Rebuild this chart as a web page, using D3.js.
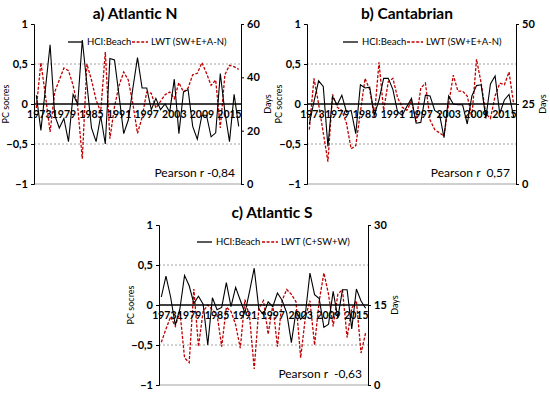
<!DOCTYPE html>
<html>
<head>
<meta charset="utf-8">
<script src="https://cdn.jsdelivr.net/npm/d3@7"></script>
<style>
  body { margin: 0; background: #fff; }
  text { font-family: Lato, "Liberation Sans", sans-serif; }
</style>
</head>
<body>
<svg id="chart"></svg>
<script>
const width = 550, height = 393;

// years 1973-2017
const years = d3.range(1973, 2018);
const yearLabels = [1973, 1979, 1985, 1991, 1997, 2003, 2009, 2015];
const pcTicks = [1, 0.5, 0, -0.5, -1];

// a) Atlantic N
const hciAtlN = [0.11,-0.33,0.2,0.74,-0.14,-0.3,-0.18,-0.47,0.12,0.0,
  0.8,0.25,-0.3,-0.47,-0.15,-0.5,0.57,0.55,0.1,-0.37,
  -0.2,0.2,0.58,0.2,0.2,-0.07,0.07,-0.07,0.0,-0.1,
  0.31,-0.37,0.15,0.18,-0.28,-0.44,-0.14,-0.14,-0.41,-0.36,
  0.38,-0.1,-0.47,0.12,-0.28];
const lwtAtlN = [28.5,45.5,33,19.5,34.5,39,43.5,42.5,37,29,
  9.5,45,39,31.5,27,49.5,17,29,37,42,
  39,30,19,25,34.5,34,28.5,31,33.5,34.5,
  32,38,34.5,36,41,41.5,45.5,41.5,37,39,
  21,41,44.5,44,43];

// b) Cantabrian
const hciCant = [-0.25,0.03,0.29,0.22,-0.53,0.09,-0.01,0.11,-0.1,-0.08,
  -0.37,0.24,0.2,0.21,-0.14,0.05,0.32,0.32,0.18,-0.1,
  -0.14,-0.03,0.07,-0.24,-0.23,0.11,0.1,-0.08,-0.12,-0.42,
  0.1,0.0,-0.01,-0.01,-0.25,0.1,0.23,0.24,-0.18,0.25,
  0.35,-0.12,0.05,0.12,-0.16];
const lwtCant = [17,33,25,16,7,28,24,23,19,11,
  12,22.5,33,29.5,21,38,23,32,33,27,
  24,23,26,19.5,30,31.5,20,17,16,15,
  25,34,29,29,27.5,21,39,31.5,22,20.5,
  27.5,31.5,31,35,25];

// c) Atlantic S
const hciAtlS = [0.1,0.36,0.1,-0.25,-0.05,0.37,0.24,0.02,0.11,0.01,
  -0.5,0.09,-0.06,-0.03,0.28,-0.02,0.22,0.06,-0.1,0.17,
  0.46,-0.05,-0.12,0.04,-0.02,0.15,0.06,-0.1,-0.47,-0.08,
  -0.18,-0.12,0.4,0.13,0.08,-0.28,-0.24,0.17,-0.16,0.19,
  0.19,-0.3,0.2,0.05,-0.04];
const lwtAtlS = [8,10.5,12.8,11,13.8,5.1,4.2,18,7.2,13.8,
  15,14.1,13.2,7.2,14.6,13.8,11.3,6.9,16,12.8,
  3,14.4,15.8,9.5,15,7.2,15.8,17.9,17,15.6,
  5.1,12.6,15.8,7.5,15.8,21,17,11,17,17.9,
  8.9,14.4,15.8,6,9.8];

const panels = [
  { title: "a) Atlantic N", x0: 34, x1: 241, y0: 24, y1: 184, hci: hciAtlN, lwt: lwtAtlN,
    dmax: 60, dticks: [0, 20, 40, 60], lwtName: "LWT (SW+E+A-N)", pearson: "Pearson r -0,84",
    titleX: 135, titleY: 19, legX: 68, legY: 42, redX: 132 },
  { title: "b) Cantabrian", x0: 307, x1: 516, y0: 24, y1: 184, hci: hciCant, lwt: lwtCant,
    dmax: 50, dticks: [0, 25, 50], lwtName: "LWT (SW+E+A-N)", pearson: "Pearson r  0,57",
    titleX: 407, titleY: 19, legX: 343, legY: 42, redX: 407 },
  { title: "c) Atlantic S", x0: 159, x1: 368, y0: 225, y1: 385, hci: hciAtlS, lwt: lwtAtlS,
    dmax: 30, dticks: [0, 15, 30], lwtName: "LWT (C+SW+W)", pearson: "Pearson r  -0,63",
    titleX: 272, titleY: 218, legX: 197, legY: 242, redX: 262 }
];

const red = "#c00000";

const svg = d3.select("#chart")
  .attr("width", width)
  .attr("height", height);

svg.append("rect").attr("width", width).attr("height", height).attr("fill", "#fff");

function drawPanel(p) {
  const g = svg.append("g");
  const x = d3.scalePoint().domain(years).range([p.x0, p.x1]).padding(0.5);
  const y = d3.scaleLinear().domain([-1, 1]).range([p.y1, p.y0]);
  const yd = d3.scaleLinear().domain([0, p.dmax]).range([p.y1, p.y0]);

  // dashed grid at +-0.5
  g.selectAll(".grid").data([0.5, -0.5]).join("line")
    .attr("x1", p.x0).attr("x2", p.x1)
    .attr("y1", d => y(d)).attr("y2", d => y(d))
    .attr("stroke", "#8c8c8c").attr("stroke-width", 0.8)
    .attr("stroke-dasharray", "2,2");

  // bottom line
  g.append("line").attr("x1", p.x0).attr("x2", p.x1)
    .attr("y1", y(-1)).attr("y2", y(-1))
    .attr("stroke", "#888").attr("stroke-width", 0.8);

  // left axis
  const left = g.append("g").attr("transform", `translate(${p.x0},0)`)
    .call(d3.axisLeft(y).tickValues(pcTicks).tickSize(3)
      .tickFormat(d => d3.format("")(d).replace(".", ",")));
  left.select(".domain").attr("stroke", "#000").attr("stroke-width", 1);
  left.selectAll("text").attr("font-size", 11).attr("font-weight", "bold")
    .attr("font-family", "Lato, sans-serif").attr("fill", "#000");

  // right axis
  const right = g.append("g").attr("transform", `translate(${p.x1},0)`)
    .call(d3.axisRight(yd).tickValues(p.dticks).tickSize(3));
  right.select(".domain").attr("stroke", "#000").attr("stroke-width", 1);
  right.selectAll("text").attr("font-size", 11).attr("font-weight", "bold")
    .attr("font-family", "Lato, sans-serif").attr("fill", "#000");

  // axis titles
  g.append("text")
    .attr("transform", `translate(${p.x0 - 25},${y(0)}) rotate(-90)`)
    .attr("text-anchor", "middle").attr("font-size", 9).text("PC socres");
  g.append("text")
    .attr("transform", `translate(${p.x1 + 30},${y(0)}) rotate(-90)`)
    .attr("text-anchor", "middle").attr("font-size", 9).text("Days");

  // red LWT line
  g.append("path").datum(p.lwt)
    .attr("fill", "none").attr("stroke", red).attr("stroke-width", 1.3)
    .attr("stroke-dasharray", "3,1.6")
    .attr("d", d3.line().x((d, i) => x(years[i])).y(d => yd(d)));

  // black HCI line
  g.append("path").datum(p.hci)
    .attr("fill", "none").attr("stroke", "#000").attr("stroke-width", 1.1)
    .attr("d", d3.line().x((d, i) => x(years[i])).y(d => y(d)));

  // zero line
  g.append("line").attr("x1", p.x0).attr("x2", p.x1)
    .attr("y1", y(0)).attr("y2", y(0))
    .attr("stroke", "#000").attr("stroke-width", 1.4);

  // year labels (first one nudged right, clear of the "0" tick label)
  g.selectAll(".yr").data(yearLabels).join("text")
    .attr("x", (d, i) => x(d) + (i === 0 ? 3 : 0)).attr("y", y(0) + 14)
    .attr("text-anchor", "middle")
    .attr("font-size", 10.5).attr("font-weight", "bold")
    .text(d => d);

  // title
  g.append("text").attr("x", p.titleX).attr("y", p.titleY)
    .attr("text-anchor", "middle").attr("font-size", 15.5).attr("font-weight", "bold")
    .attr("font-family", "Liberation Sans, Arial, sans-serif")
    .text(p.title);

  // legend
  g.append("line").attr("x1", p.legX).attr("x2", p.legX + 15)
    .attr("y1", p.legY).attr("y2", p.legY).attr("stroke", "#000").attr("stroke-width", 1.3);
  g.append("text").attr("x", p.legX + 19).attr("y", p.legY + 3)
    .attr("font-size", 9.5).text("HCI:Beach");
  g.append("line").attr("x1", p.redX).attr("x2", p.redX + 16)
    .attr("y1", p.legY).attr("y2", p.legY).attr("stroke", red).attr("stroke-width", 1.3)
    .attr("stroke-dasharray", "3,1.6");
  g.append("text").attr("x", p.redX + 19).attr("y", p.legY + 3)
    .attr("font-size", 9.5).text(p.lwtName);

  // pearson
  g.append("text").attr("x", p.x1 - 6).attr("y", p.y1 - 7)
    .attr("text-anchor", "end").attr("font-size", 12)
    .style("white-space", "pre").text(p.pearson);
}

panels.forEach(drawPanel);
</script>
</body>
</html>
